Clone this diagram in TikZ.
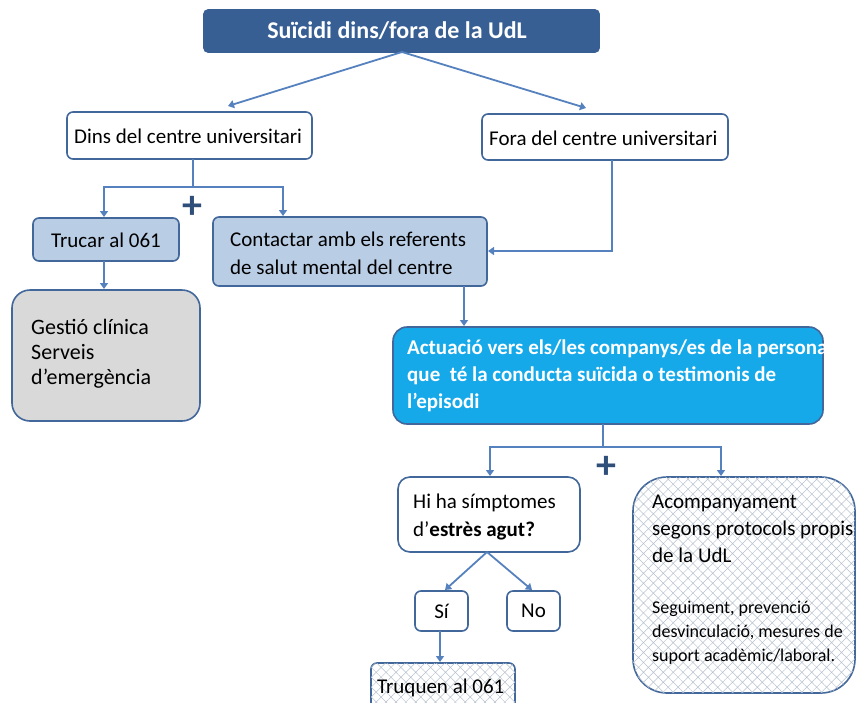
\documentclass[tikz,border=0pt]{standalone}
\usepackage{fontspec}
\setmainfont{Carlito}
\usetikzlibrary{arrows.meta,patterns.meta}
\definecolor{titlec}{HTML}{375F93}
\definecolor{bordc}{HTML}{41679B}
\definecolor{linec}{HTML}{5582BE}
\definecolor{lightb}{HTML}{B9CDE5}
\definecolor{grayf}{HTML}{D9D9D9}
\definecolor{cyanf}{HTML}{15A9EA}
\definecolor{hatchc}{HTML}{B8C2CF}
\definecolor{plusc}{HTML}{2F4F7A}
\tikzset{
  bx/.style={draw=bordc, line width=1.6pt, rounded corners=6pt, inner sep=0pt},
  conn/.style={draw=linec, line width=1.8pt},
  arr/.style={conn, -{Triangle[length=6pt,width=8pt]}},
  txt/.style={font=\fontsize{21}{28}\selectfont, align=left, anchor=west, inner sep=0pt},
  hatchbx/.style={bx, fill=white, postaction={pattern={Hatch[angle=45,distance=7pt,line width=0.5pt]}, pattern color=hatchc}},
  plus/.style={font=\fontsize{40}{40}\selectfont\bfseries, text=plusc, inner sep=0pt}
}
\begin{document}
\begin{tikzpicture}[x=1pt,y=-1pt]
\useasboundingbox[fill=white] (0,0) rectangle (856,702);
\begin{scope}
\clip (0,0) rectangle (856,702);
% title
\draw[bx, fill=titlec, draw=titlec, rounded corners=4pt] (204,10) rectangle (599,52);
\node (title) [font=\fontsize{24}{28}\selectfont\bfseries, text=white, inner sep=0pt] at (397,31) {Suïcidi dins/fora de la UdL};
\coordinate (tb) at (402,52);
% level 2
\draw[bx, fill=white] (67,112) rectangle (312,159);
\node (dins) [txt] at (74,136) {Dins del centre universitari};
\draw[bx, fill=white] (482,114) rectangle (728,160);
\node (fora) [txt] at (489,138) {Fora del centre universitari};
\coordinate (dinsT) at (228,106);
\coordinate (foraT) at (586,108);
\draw[arr] (tb) -- (dinsT);
\draw[arr] (tb) -- (foraT);
% level 3
\draw[bx, fill=lightb] (33,218) rectangle (179,261);
\node (trucar) [txt] at (51,240) {Trucar al 061};
\draw[bx, fill=lightb] (213,217) rectangle (487,286);
\node (contactar) [txt] at (230,253) {Contactar amb els referents\\de salut mental del centre};
\coordinate (d1) at (193,159);
\coordinate (d2) at (193,187);
\coordinate (dL) at (104,187);
\coordinate (dR) at (283,187);
\coordinate (dLb) at (104,217);
\coordinate (dRb) at (283,216);
\draw[conn] (d1) -- (d2);
\draw[arr] (d2) -- (dL) -- (dLb);
\draw[arr] (d2) -- (dR) -- (dRb);
\node (plus1) [plus] at (192,207) {+};
\coordinate (f1) at (612,160);
\coordinate (f2) at (612,251);
\coordinate (f3) at (488,251);
\draw[arr] (f1) -- (f2) -- (f3);
% gestio
\draw[bx, fill=grayf, rounded corners=18pt] (12,290) rectangle (200,421);
\node (gestio) [txt, font=\fontsize{22}{25}\selectfont] at (31,354) {Gestió clínica\\Serveis\\d’emergència};
\coordinate (t1) at (104,261);
\coordinate (t2) at (104,289);
\draw[arr] (t1) -- (t2);
% actuacio
\draw[bx, fill=cyanf, rounded corners=14pt] (393,327) rectangle (823,424);
\node (actuacio) [txt, text=white, font=\fontsize{21}{27}\selectfont\bfseries] at (407,376) {Actuació vers els/les companys/es de la persona\\que\ \ té la conducta suïcida o testimonis de\\l’episodi};
\coordinate (c1) at (464,286);
\coordinate (c2) at (464,326);
\draw[arr] (c1) -- (c2);
% level 5
\coordinate (a1) at (603,424);
\coordinate (a2) at (603,447);
\coordinate (aL) at (490,447);
\coordinate (aR) at (721,447);
\coordinate (aLb) at (490,476);
\coordinate (aRb) at (721,476);
\draw[conn] (a1) -- (a2);
\draw[arr] (a2) -- (aL) -- (aLb);
\draw[arr] (a2) -- (aR) -- (aRb);
\node (plus2) [plus] at (606,467) {+};
\draw[bx, fill=white, rounded corners=12pt] (398,477) rectangle (580,552);
\node (hiha) [txt, font=\fontsize{21}{28}\selectfont] at (413,517) {Hi ha símptomes\\d’\textbf{estrès agut?}};
\draw[hatchbx, rounded corners=34pt] (633,477) rectangle (855,693);
\node (acomp) [txt, anchor=north west, font=\fontsize{21}{27}\selectfont] at (652,495) {Acompanyament\\segons protocols propis\\de la UdL};
\node (seg) [txt, anchor=north west, font=\fontsize{18}{24}\selectfont] at (652,601) {Seguiment, prevenció\\desvinculació, mesures de\\suport acadèmic/laboral.};
% si / no
\draw[bx, fill=white] (415,591) rectangle (468,631);
\node (si) [txt, anchor=center] at (441.5,611) {Sí};
\draw[bx, fill=white] (507,591) rectangle (560,631);
\node (no) [txt, anchor=center] at (533.5,611) {No};
\coordinate (h1) at (487,552);
\coordinate (siT) at (445,590);
\coordinate (noT) at (532,590);
\draw[arr] (h1) -- (siT);
\draw[arr] (h1) -- (noT);
\draw[hatchbx] (371,663) rectangle (515,720);
\node (truquen) [txt] at (377,688) {Truquen al 061};
\coordinate (s1) at (440,631);
\coordinate (s2) at (440,662);
\draw[arr] (s1) -- (s2);
\end{scope}
\end{tikzpicture}
\end{document}
